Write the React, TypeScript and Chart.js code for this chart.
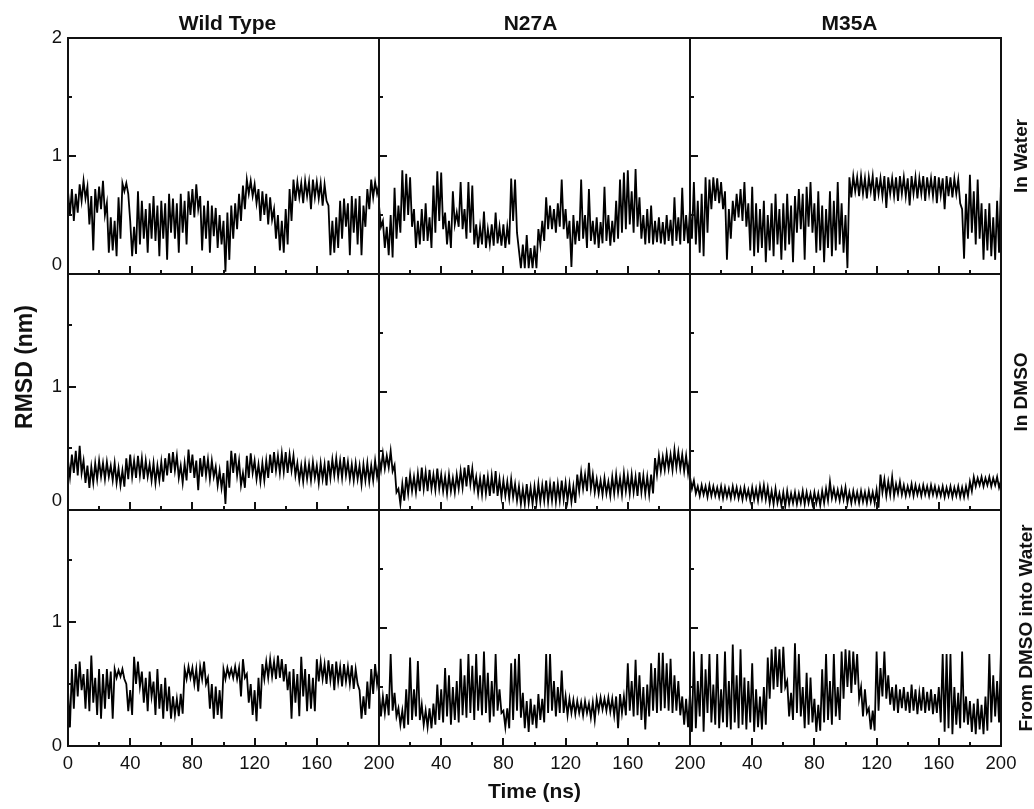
import React, { useEffect, useRef } from 'react';
import { Chart, registerables } from 'chart.js';

Chart.register(...registerables);

// ---- labels ----
const columnTitles = ['Wild Type', 'N27A', 'M35A'];
const rowTitles = ['In Water', 'In DMSO', 'From DMSO into Water'];
const xTickValues = [0, 40, 80, 120, 160, 200];
const xMinorValues = [20, 60, 100, 140, 180];
const yTickTopRow = [0, 1, 2];
const yTickOtherRows = [0, 1];
const xAxisTitle = 'Time (ns)';
const yAxisTitle = 'RMSD (nm)';

// envelope samples: "Hi" at t = 0, 2.5, ... 200 ns ; "Lo" at t = 1.25, 3.75, ... 198.75 ns
const sampleStep = 1.25;

// Wild Type, In Water
const wtWaterHi = [0.70,0.72,0.68,0.76,0.79,0.74,0.66,0.72,0.74,0.79, 0.60,0.48,0.45,0.65,0.77,0.77,0.45,0.40,0.70,0.62, 0.55,0.60,0.66,0.58,0.62,0.60,0.68,0.64,0.60,0.68, 0.62,0.70,0.72,0.76,0.66,0.58,0.62,0.58,0.56,0.50, 0.45,0.52,0.58,0.60,0.68,0.75,0.80,0.79,0.76,0.72, 0.70,0.68,0.65,0.55,0.50,0.45,0.55,0.72,0.80,0.78, 0.77,0.79,0.78,0.80,0.78,0.77,0.76,0.58,0.45,0.48, 0.62,0.64,0.60,0.66,0.64,0.66,0.58,0.72,0.80,0.78, 0.76];
const wtWaterLo = [0.50,0.45,0.52,0.62,0.64,0.42,0.20,0.52,0.55,0.50, 0.18,0.20,0.15,0.30,0.70,0.68,0.15,0.17,0.25,0.30, 0.18,0.30,0.28,0.15,0.30,0.12,0.35,0.30,0.18,0.35, 0.25,0.50,0.48,0.55,0.20,0.30,0.18,0.32,0.22,0.25, 0.02,0.12,0.30,0.38,0.45,0.55,0.68,0.66,0.60,0.45, 0.50,0.42,0.46,0.30,0.20,0.18,0.25,0.45,0.62,0.65, 0.60,0.66,0.55,0.65,0.64,0.58,0.62,0.16,0.18,0.22, 0.30,0.40,0.16,0.35,0.25,0.16,0.40,0.55,0.65,0.68];

// N27A, In Water
const n27aWaterHi = [0.58,0.45,0.40,0.50,0.73,0.58,0.88,0.85,0.82,0.55, 0.45,0.55,0.60,0.48,0.75,0.87,0.86,0.52,0.45,0.70, 0.52,0.78,0.55,0.78,0.75,0.42,0.40,0.53,0.38,0.42, 0.52,0.40,0.42,0.40,0.81,0.80,0.20,0.25,0.33,0.22, 0.24,0.38,0.45,0.65,0.58,0.55,0.60,0.80,0.55,0.45, 0.50,0.45,0.80,0.50,0.72,0.45,0.48,0.44,0.74,0.50, 0.45,0.62,0.80,0.86,0.88,0.70,0.89,0.65,0.50,0.55, 0.58,0.45,0.48,0.44,0.50,0.46,0.65,0.48,0.73,0.50, 0.55];
const n27aWaterLo = [0.40,0.22,0.16,0.14,0.30,0.35,0.45,0.50,0.40,0.22, 0.25,0.28,0.28,0.22,0.35,0.45,0.38,0.25,0.22,0.42, 0.40,0.38,0.30,0.35,0.25,0.22,0.25,0.22,0.25,0.24, 0.26,0.24,0.22,0.25,0.45,0.35,0.05,0.05,0.05,0.05, 0.05,0.25,0.28,0.38,0.38,0.35,0.40,0.38,0.30,0.06, 0.25,0.28,0.30,0.22,0.28,0.25,0.22,0.26,0.28,0.24, 0.27,0.30,0.35,0.38,0.42,0.35,0.40,0.30,0.25,0.26, 0.25,0.27,0.26,0.25,0.28,0.24,0.28,0.25,0.28,0.26];

// M35A, In Water
const m35aWaterHi = [0.55,0.78,0.62,0.68,0.82,0.80,0.82,0.81,0.78,0.70, 0.55,0.62,0.68,0.72,0.78,0.60,0.74,0.60,0.55,0.62, 0.50,0.60,0.68,0.55,0.60,0.68,0.58,0.66,0.72,0.68, 0.74,0.78,0.60,0.70,0.58,0.55,0.70,0.62,0.78,0.60, 0.50,0.82,0.83,0.82,0.83,0.81,0.82,0.83,0.82,0.81, 0.83,0.82,0.81,0.82,0.83,0.82,0.81,0.83,0.82,0.81, 0.83,0.82,0.81,0.83,0.82,0.81,0.83,0.82,0.81,0.80, 0.55,0.68,0.84,0.70,0.80,0.60,0.55,0.60,0.48,0.62, 0.78];
const m35aWaterLo = [0.30,0.25,0.18,0.15,0.35,0.55,0.62,0.60,0.55,0.12, 0.30,0.45,0.48,0.45,0.40,0.20,0.15,0.18,0.22,0.10, 0.20,0.15,0.25,0.12,0.20,0.25,0.10,0.35,0.38,0.12, 0.40,0.35,0.18,0.20,0.10,0.22,0.15,0.20,0.25,0.18, 0.05,0.65,0.70,0.66,0.68,0.64,0.70,0.62,0.68,0.66, 0.56,0.68,0.66,0.62,0.68,0.66,0.58,0.68,0.64,0.68, 0.62,0.68,0.66,0.60,0.67,0.55,0.66,0.65,0.68,0.60, 0.13,0.30,0.35,0.25,0.30,0.12,0.20,0.15,0.12,0.18];

// Wild Type, In DMSO
const wtDmsoHi = [0.40,0.45,0.48,0.52,0.40,0.36,0.35,0.38,0.40,0.38, 0.39,0.36,0.38,0.34,0.32,0.42,0.45,0.40,0.44,0.42, 0.40,0.37,0.38,0.36,0.39,0.42,0.46,0.47,0.44,0.36, 0.38,0.49,0.45,0.40,0.42,0.44,0.41,0.40,0.35,0.32, 0.30,0.40,0.48,0.46,0.40,0.30,0.44,0.46,0.40,0.37, 0.38,0.40,0.45,0.47,0.44,0.46,0.47,0.45,0.44,0.38, 0.36,0.38,0.37,0.39,0.36,0.38,0.37,0.40,0.41,0.42, 0.40,0.43,0.39,0.37,0.38,0.36,0.37,0.38,0.36,0.40, 0.38];
const wtDmsoLo = [0.27,0.30,0.28,0.30,0.22,0.18,0.22,0.25,0.27,0.25, 0.27,0.24,0.22,0.20,0.19,0.25,0.27,0.26,0.28,0.25, 0.27,0.24,0.22,0.24,0.23,0.28,0.30,0.32,0.26,0.22, 0.24,0.30,0.26,0.16,0.27,0.28,0.25,0.27,0.20,0.18, 0.05,0.18,0.30,0.28,0.20,0.18,0.26,0.30,0.25,0.23, 0.24,0.26,0.30,0.32,0.30,0.31,0.30,0.32,0.28,0.24, 0.23,0.25,0.24,0.26,0.22,0.25,0.20,0.26,0.28,0.27, 0.26,0.28,0.25,0.24,0.25,0.21,0.24,0.23,0.24,0.27];

// N27A, In DMSO
const n27aDmsoHi = [0.45,0.48,0.46,0.50,0.38,0.18,0.22,0.28,0.30,0.28, 0.31,0.36,0.32,0.34,0.30,0.35,0.30,0.28,0.30,0.27, 0.30,0.33,0.36,0.38,0.35,0.28,0.27,0.30,0.28,0.29, 0.33,0.26,0.25,0.24,0.26,0.22,0.20,0.18,0.22,0.19, 0.20,0.22,0.21,0.25,0.22,0.24,0.22,0.25,0.23,0.22, 0.20,0.30,0.32,0.30,0.40,0.30,0.26,0.25,0.27,0.24, 0.28,0.30,0.27,0.31,0.29,0.30,0.28,0.32,0.29,0.28, 0.30,0.44,0.46,0.45,0.48,0.47,0.51,0.49,0.47,0.46, 0.44];
const n27aDmsoLo = [0.34,0.35,0.36,0.33,0.15,0.05,0.08,0.14,0.16,0.15, 0.16,0.18,0.16,0.18,0.17,0.18,0.16,0.14,0.16,0.15, 0.18,0.19,0.20,0.22,0.18,0.14,0.13,0.14,0.12,0.14, 0.12,0.11,0.12,0.10,0.11,0.08,0.05,0.05,0.06,0.05, 0.06,0.07,0.08,0.07,0.08,0.07,0.08,0.09,0.08,0.07, 0.06,0.16,0.18,0.16,0.18,0.15,0.14,0.13,0.14,0.12, 0.14,0.15,0.13,0.16,0.14,0.15,0.12,0.15,0.14,0.13, 0.14,0.30,0.33,0.34,0.35,0.34,0.36,0.35,0.33,0.31];

// M35A, In DMSO
const m35aDmsoHi = [0.28,0.25,0.20,0.21,0.20,0.21,0.20,0.19,0.20,0.19, 0.18,0.20,0.19,0.18,0.19,0.17,0.19,0.18,0.20,0.21, 0.19,0.16,0.18,0.14,0.15,0.16,0.14,0.15,0.14,0.16, 0.15,0.14,0.15,0.14,0.16,0.18,0.24,0.18,0.17,0.18, 0.19,0.15,0.16,0.15,0.16,0.15,0.16,0.15,0.17,0.30, 0.26,0.24,0.28,0.22,0.24,0.21,0.20,0.22,0.21,0.20, 0.21,0.20,0.21,0.20,0.19,0.20,0.19,0.20,0.19,0.20, 0.19,0.20,0.24,0.28,0.27,0.28,0.27,0.28,0.27,0.28, 0.25];
const m35aDmsoLo = [0.18,0.14,0.12,0.13,0.11,0.12,0.12,0.11,0.10,0.11, 0.10,0.11,0.10,0.09,0.10,0.08,0.09,0.08,0.10,0.09, 0.06,0.05,0.06,0.04,0.03,0.05,0.06,0.05,0.06,0.05, 0.06,0.05,0.06,0.04,0.06,0.08,0.10,0.09,0.08,0.09, 0.06,0.06,0.07,0.06,0.07,0.06,0.07,0.06,0.02,0.15, 0.12,0.13,0.12,0.14,0.13,0.12,0.13,0.12,0.13,0.12, 0.13,0.12,0.13,0.12,0.12,0.11,0.12,0.11,0.12,0.11, 0.11,0.12,0.16,0.20,0.21,0.20,0.21,0.20,0.21,0.19];

// Wild Type, From DMSO into Water
const wtTransferHi = [0.45,0.62,0.66,0.68,0.58,0.62,0.73,0.55,0.62,0.58, 0.62,0.60,0.62,0.61,0.62,0.50,0.45,0.72,0.68,0.60, 0.55,0.60,0.52,0.62,0.50,0.55,0.48,0.40,0.38,0.42, 0.62,0.64,0.63,0.62,0.64,0.68,0.55,0.50,0.48,0.45, 0.62,0.63,0.62,0.64,0.63,0.70,0.58,0.50,0.45,0.55, 0.66,0.68,0.70,0.68,0.73,0.70,0.66,0.60,0.62,0.58, 0.72,0.62,0.58,0.55,0.70,0.68,0.66,0.69,0.66,0.68, 0.64,0.66,0.64,0.65,0.62,0.45,0.40,0.52,0.62,0.66, 0.62];
const wtTransferLo = [0.15,0.30,0.40,0.45,0.30,0.28,0.35,0.25,0.22,0.30, 0.38,0.22,0.55,0.56,0.54,0.28,0.25,0.50,0.48,0.35, 0.28,0.40,0.25,0.30,0.22,0.28,0.22,0.25,0.24,0.26, 0.54,0.55,0.50,0.44,0.54,0.50,0.30,0.22,0.25,0.22, 0.54,0.56,0.55,0.54,0.40,0.55,0.35,0.25,0.20,0.30, 0.54,0.55,0.56,0.54,0.55,0.52,0.45,0.22,0.35,0.24, 0.40,0.28,0.30,0.28,0.52,0.54,0.50,0.53,0.45,0.52, 0.48,0.52,0.50,0.46,0.50,0.22,0.25,0.30,0.42,0.50];

// N27A, From DMSO into Water
const n27aTransferHi = [0.47,0.42,0.44,0.78,0.45,0.32,0.30,0.48,0.75,0.48, 0.72,0.35,0.30,0.32,0.36,0.52,0.48,0.66,0.60,0.50, 0.55,0.74,0.60,0.78,0.68,0.78,0.60,0.80,0.62,0.55, 0.78,0.48,0.30,0.32,0.70,0.74,0.78,0.45,0.38,0.40, 0.35,0.44,0.40,0.78,0.78,0.55,0.50,0.64,0.42,0.40, 0.39,0.38,0.37,0.38,0.36,0.37,0.40,0.41,0.40,0.41, 0.40,0.42,0.44,0.42,0.70,0.55,0.73,0.60,0.50,0.52, 0.70,0.66,0.79,0.79,0.70,0.74,0.60,0.55,0.42,0.40, 0.45];
const n27aTransferLo = [0.25,0.28,0.26,0.30,0.25,0.18,0.15,0.18,0.22,0.25, 0.22,0.18,0.16,0.15,0.18,0.22,0.20,0.25,0.18,0.22, 0.20,0.26,0.24,0.28,0.22,0.30,0.26,0.28,0.20,0.25, 0.30,0.28,0.16,0.15,0.22,0.30,0.24,0.15,0.12,0.18, 0.15,0.22,0.20,0.28,0.30,0.25,0.28,0.28,0.26,0.28, 0.27,0.28,0.26,0.28,0.24,0.22,0.30,0.31,0.30,0.29, 0.26,0.15,0.28,0.26,0.30,0.25,0.26,0.22,0.14,0.25, 0.30,0.28,0.30,0.32,0.30,0.28,0.30,0.26,0.18,0.16];

// M35A, From DMSO into Water
const m35aTransferHi = [0.45,0.80,0.55,0.78,0.65,0.78,0.52,0.78,0.48,0.80, 0.55,0.86,0.60,0.82,0.58,0.55,0.70,0.48,0.42,0.50, 0.75,0.82,0.84,0.82,0.84,0.55,0.45,0.87,0.78,0.50, 0.62,0.58,0.40,0.35,0.65,0.78,0.55,0.78,0.50,0.80, 0.82,0.81,0.80,0.78,0.50,0.48,0.32,0.30,0.80,0.66, 0.80,0.60,0.50,0.52,0.48,0.50,0.46,0.52,0.48,0.45, 0.50,0.46,0.48,0.44,0.50,0.78,0.78,0.78,0.50,0.45, 0.80,0.42,0.38,0.36,0.40,0.35,0.42,0.78,0.60,0.55, 0.82];
const m35aTransferLo = [0.12,0.15,0.25,0.12,0.28,0.20,0.18,0.15,0.20,0.16, 0.14,0.20,0.15,0.18,0.14,0.20,0.12,0.16,0.14,0.18, 0.40,0.48,0.50,0.45,0.50,0.25,0.22,0.28,0.25,0.15, 0.18,0.20,0.12,0.13,0.20,0.22,0.18,0.25,0.22,0.40, 0.50,0.45,0.52,0.40,0.25,0.28,0.14,0.13,0.30,0.42, 0.40,0.35,0.30,0.28,0.32,0.30,0.28,0.30,0.27,0.30, 0.28,0.30,0.27,0.28,0.20,0.12,0.15,0.10,0.18,0.15, 0.20,0.18,0.12,0.10,0.14,0.10,0.13,0.20,0.25,0.20];

// per-row axis ranges (first column uses its own y axes, as in the original figure)
const leftColumnYMax = [2, 1.914, 1.903];
const otherColumnsYMax = [2, 2, 2];

const panelSeries = [
  [[wtWaterHi, wtWaterLo], [n27aWaterHi, n27aWaterLo], [m35aWaterHi, m35aWaterLo]],
  [[wtDmsoHi, wtDmsoLo], [n27aDmsoHi, n27aDmsoLo], [m35aDmsoHi, m35aDmsoLo]],
  [[wtTransferHi, wtTransferLo], [n27aTransferHi, n27aTransferLo], [m35aTransferHi, m35aTransferLo]],
];

const FONT = "'Liberation Sans', Arial, sans-serif";
const INK = '#111';

function envelopeTrace(hi: number[], lo: number[]) {
  const pts: { x: number; y: number }[] = [];
  for (let k = 0; k < hi.length; k++) {
    pts.push({ x: 2 * k * sampleStep, y: hi[k] });
    if (k < lo.length) pts.push({ x: (2 * k + 1) * sampleStep, y: lo[k] });
  }
  return pts;
}

const framePlugin = {
  id: 'panelFrames',
  afterDraw(chart: any) {
    const ctx = chart.ctx as CanvasRenderingContext2D;
    ctx.save();
    ctx.strokeStyle = INK;
    ctx.lineWidth = 2;
    for (let r = 0; r < 3; r++) {
      for (let c = 0; c < 3; c++) {
        const xs = chart.scales['x' + c];
        const ys = chart.scales[(c === 0 ? 'yL' : 'yR') + r];
        const left = xs.left, right = xs.right, top = ys.top, bottom = ys.bottom;
        ctx.strokeRect(left, top, right - left, bottom - top);
        ctx.beginPath();
        for (const v of [...xTickValues.slice(1, -1), ...xMinorValues]) {
          const len = v % 40 === 0 ? 8 : 4;
          const px = Math.round(xs.getPixelForValue(v));
          ctx.moveTo(px, bottom);
          ctx.lineTo(px, bottom - len);
        }
        for (const v of [0.5, 1, 1.5]) {
          const len = v === 1 ? 8 : 4;
          const py = Math.round(ys.getPixelForValue(v));
          ctx.moveTo(left, py);
          ctx.lineTo(left + len, py);
        }
        ctx.stroke();
      }
    }
    ctx.fillStyle = INK;
    // column titles
    ctx.font = `bold 21px ${FONT}`;
    ctx.textAlign = 'center';
    ctx.textBaseline = 'alphabetic';
    const titleShift = [4, -4, 4];
    for (let c = 0; c < 3; c++) {
      const xs = chart.scales['x' + c];
      ctx.fillText(columnTitles[c], (xs.left + xs.right) / 2 + titleShift[c], 30);
    }
    // row titles (right side, rotated)
    ctx.font = `bold 19px ${FONT}`;
    const rowBase = [1027, 1027, 1032];
    for (let r = 0; r < 3; r++) {
      const ys = chart.scales['yR' + r];
      ctx.save();
      ctx.translate(rowBase[r], (ys.top + ys.bottom) / 2);
      ctx.rotate(-Math.PI / 2);
      ctx.fillText(rowTitles[r], 0, 0);
      ctx.restore();
    }
    // axis titles
    ctx.font = `bold 23px ${FONT}`;
    ctx.save();
    ctx.translate(32, 367);
    ctx.rotate(-Math.PI / 2);
    ctx.fillText(yAxisTitle, 0, 0);
    ctx.restore();
    ctx.font = `bold 21px ${FONT}`;
    ctx.fillText(xAxisTitle, chart.scales['x1'].left + (chart.scales['x1'].right - chart.scales['x1'].left) / 2, 798);
    ctx.restore();
  },
};

export default function App() {
  const ref = useRef<HTMLCanvasElement | null>(null);
  useEffect(() => {
    if (!ref.current) return;
    const tickFont = { family: FONT, size: 18.5, lineHeight: 1 };
    const scales: any = {};
    for (let c = 0; c < 3; c++) {
      const values = c === 0 ? xTickValues : xTickValues.slice(1);
      scales['x' + c] = {
        type: 'linear', position: 'bottom', stack: 'columns', stackWeight: 1, weight: 0,
        min: 0, max: 200, offset: false,
        grid: { display: false, drawTicks: false }, border: { display: false },
        ticks: { autoSkip: false, maxRotation: 0, minRotation: 0, padding: 9, color: INK, font: tickFont, callback: (v: number) => String(v) },
        afterBuildTicks: (s: any) => { s.ticks = values.map((v) => ({ value: v })); },
        afterFit: (s: any) => { s.height = 63; },
      };
    }
    for (let r = 0; r < 3; r++) {
      const values = r === 0 ? yTickTopRow : yTickOtherRows;
      scales['yL' + r] = {
        type: 'linear', position: 'left', stack: 'firstCol', stackWeight: 1, weight: 3 - r,
        min: 0, max: leftColumnYMax[r],
        grid: { display: false, drawTicks: false }, border: { display: false },
        ticks: {
          autoSkip: false, padding: 6, color: INK, font: tickFont,
          callback: (v: number) => (v === 0 && r < 2 ? ['0', ''] : String(v)),
        },
        afterBuildTicks: (s: any) => { s.ticks = values.map((v) => ({ value: v })); },
        afterFit: (s: any) => { s.width = 68; },
      };
      scales['yR' + r] = {
        type: 'linear', position: 'left', stack: 'otherCols', stackWeight: 1, weight: 3 - r,
        min: 0, max: otherColumnsYMax[r],
        grid: { display: false, drawTicks: false }, border: { display: false },
        ticks: { display: false },
        afterFit: (s: any) => { s.width = 0; },
      };
    }
    const datasets: any[] = [];
    for (let r = 0; r < 3; r++) {
      for (let c = 0; c < 3; c++) {
        const [hi, lo] = panelSeries[r][c];
        datasets.push({
          label: `${columnTitles[c]} – ${rowTitles[r]}`,
          data: envelopeTrace(hi, lo),
          xAxisID: 'x' + c,
          yAxisID: (c === 0 ? 'yL' : 'yR') + r,
          borderColor: '#000',
          borderWidth: 1.8,
          pointRadius: 0,
          tension: 0,
          fill: false,
        });
      }
    }
    const chart = new Chart(ref.current, {
      type: 'line',
      data: { datasets },
      options: {
        responsive: false,
        animation: false,
        events: [],
        layout: { padding: { left: 0, top: 38, right: 33, bottom: 0 } },
        plugins: { legend: { display: false }, tooltip: { enabled: false }, title: { display: false } },
        scales,
      },
      plugins: [framePlugin],
    } as any);
    return () => chart.destroy();
  }, []);
  return (
    <div style={{ position: 'absolute', left: 0, top: 0, width: 1034, height: 809, background: '#fff' }}>
      <canvas ref={ref} width={1034} height={809} style={{ display: 'block' }} />
    </div>
  );
}
